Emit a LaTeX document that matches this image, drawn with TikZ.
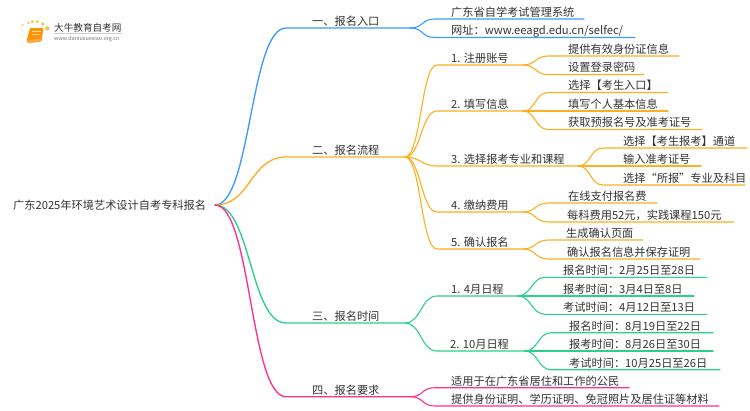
\documentclass[tikz,border=0pt]{standalone}
\usepackage{fontspec}
\setmainfont{Noto Sans CJK SC}
\usetikzlibrary{calc}
\definecolor{cblue}{HTML}{3D9BFF}
\definecolor{corange}{HTML}{FDB022}
\definecolor{cgreen}{HTML}{2BD08B}
\definecolor{cpink}{HTML}{FF2F93}
\definecolor{ctext}{HTML}{333333}
\tikzset{
  lbl/.style={anchor=base west,inner sep=0pt,font=\fontsize{11.2pt}{13pt}\selectfont,text=ctext},
  lnk/.style={line width=1.1pt,line cap=round},
  trunk/.style={line width=1.35pt,line cap=round},
}
% parent, name, style, curve end x, y, text x, line end x, control offset, text
\newcommand{\brn}[9]{%
  \coordinate (#2s) at (#4,#5);
  \coordinate (#2) at (#7,#5);
  \node[lbl] (#2t) at (#6,#5-2.7) {#9};
  \draw[#3] (#1) .. controls ($(#1)+(#8,0)$) and ($(#2s)-(#8,0)$) .. (#2s) -- (#2);
}
\begin{document}
\begin{tikzpicture}[x=1pt,y=-1pt]
\useasboundingbox (0,0) rectangle (750,410);
\fill[white] (0,0) rectangle (750,410);
% logo
\foreach \x/\y/\r/\c in {22.7/25/1.3/F9D27A,28.3/22.7/1.5/F9CB5F,32.3/21.7/1.7/F9C74F,37.3/21.7/1.7/F9C74F,42.7/24/1.8/F9C23C,47.3/28.3/2/F9BE2F,22/30/1.2/FBE3A8,22/36/1.1/FCEBC4,22.7/42.3/1/FDF1D6}{
  \definecolor{dotc}{HTML}{\c}
  \fill[dotc] (\x,\y) circle (\r);
}
\fill[rounded corners=1pt,orange!85!yellow] (30,28) -- (43.5,28) -- (41.5,41.5) -- (28,43) -- (26.5,41) -- cycle;
\fill[rounded corners=0.8pt,orange!70!white] (27,40) -- (41,39) -- (40.5,41.8) -- (28,43) -- cycle;
\draw[white!70!orange,line width=0.8pt] (32,31.5) -- (40.5,31.5) (31.5,34.7) -- (40,34.7);
\node[anchor=base west,inner sep=0pt,font=\fontsize{9.6pt}{11pt}\selectfont,text=ctext] (logotitle) at (54,31.3) {大牛教育自考网};
\node[anchor=base west,inner sep=0pt,font=\fontsize{5.4pt}{6pt}\selectfont,text=black!55] (logourl) at (54,40.7) {www.daniuxuexiao.org.cn};
\draw[black!20,line width=0.4pt] (54,33.5) -- (122,33.5);
% root
\node[lbl] (root) at (13,209.6) {广东2025年环境艺术设计自考专科报名};
\coordinate (rootout) at (215,205);
% branch 1
\brn{rootout}{a}{trunk,cblue}{286}{28}{312}{410}{36}{一、报名入口}
\brn{a}{aa}{lnk,cblue}{435}{19}{451}{584}{14}{广东省自学考试管理系统}
\brn{a}{ab}{lnk,cblue}{435}{37.5}{451}{635}{14}{网址：www.eeagd.edu.cn/selfec/}
% branch 2
\brn{rootout}{b}{trunk,corange}{286}{157}{312}{405}{36}{二、报名流程}
\brn{b}{b1}{lnk,corange}{437}{65}{451}{523}{16}{1. 注册账号}
\brn{b1}{b1a}{lnk,corange}{548}{56}{568}{679}{13}{提供有效身份证信息}
\brn{b1}{b1b}{lnk,corange}{548}{74.5}{568}{644}{13}{设置登录密码}
\brn{b}{b2}{lnk,corange}{437}{111}{451}{523}{16}{2. 填写信息}
\brn{b2}{b2a}{lnk,corange}{548}{92.5}{568}{668}{13}{选择【考生入口】}
\brn{b2}{b2b}{lnk,corange}{548}{111}{568}{668}{13}{填写个人基本信息}
\brn{b2}{b2c}{lnk,corange}{548}{129.5}{568}{702}{13}{获取预报名号及准考证号}
\brn{b}{b3}{lnk,corange}{437}{166}{451}{578}{16}{3. 选择报考专业和课程}
\brn{b3}{b3a}{lnk,corange}{603}{148}{623}{747}{13}{选择【考生报考】通道}
\brn{b3}{b3b}{lnk,corange}{603}{166}{623}{701}{13}{输入准考证号}
\brn{b3}{b3c}{lnk,corange}{603}{185}{623}{745}{13}{选择“所报”专业及科目}
\brn{b}{b4}{lnk,corange}{437}{212}{451}{523}{16}{4. 缴纳费用}
\brn{b4}{b4a}{lnk,corange}{548}{203}{568}{657}{13}{在线支付报名费}
\brn{b4}{b4b}{lnk,corange}{548}{222}{567}{734}{13}{每科费用52元，实践课程150元}
\brn{b}{b5}{lnk,corange}{437}{249}{451}{523}{16}{5. 确认报名}
\brn{b5}{b5a}{lnk,corange}{548}{240}{566}{643}{13}{生成确认页面}
\brn{b5}{b5b}{lnk,corange}{548}{259}{567}{700}{13}{确认报名信息并保存证明}
% branch 3
\brn{rootout}{c}{trunk,cgreen}{286}{323}{312}{405}{36}{三、报名时间}
\brn{c}{c1}{lnk,cgreen}{437}{296}{451}{518}{16}{1. 4月日程}
\brn{c1}{c1a}{lnk,cgreen}{545}{277.3}{563}{707}{13}{报名时间：2月25日至28日}
\brn{c1}{c1b}{lnk,cgreen}{545}{296}{563}{694}{13}{报考时间：3月4日至8日}
\brn{c1}{c1c}{lnk,cgreen}{545}{314.3}{563}{707}{13}{考试时间：4月12日至13日}
\brn{c}{c2}{lnk,cgreen}{437}{351}{450}{525}{16}{2. 10月日程}
\brn{c2}{c2a}{lnk,cgreen}{551}{332.7}{569}{713}{13}{报名时间：8月19日至22日}
\brn{c2}{c2b}{lnk,cgreen}{551}{351}{569}{713}{13}{报考时间：8月26日至30日}
\brn{c2}{c2c}{lnk,cgreen}{551}{369.7}{569}{720}{13}{考试时间：10月25日至26日}
% branch 4
\brn{rootout}{d}{trunk,cpink}{286}{396.7}{312}{410}{36}{四、报名要求}
\brn{d}{da}{lnk,cpink}{435}{387.7}{451}{629}{14}{适用于在广东省居住和工作的公民}
\brn{d}{db}{lnk,cpink}{435}{406}{451}{719}{14}{提供身份证明、学历证明、免冠照片及居住证等材料}
\end{tikzpicture}
\end{document}
